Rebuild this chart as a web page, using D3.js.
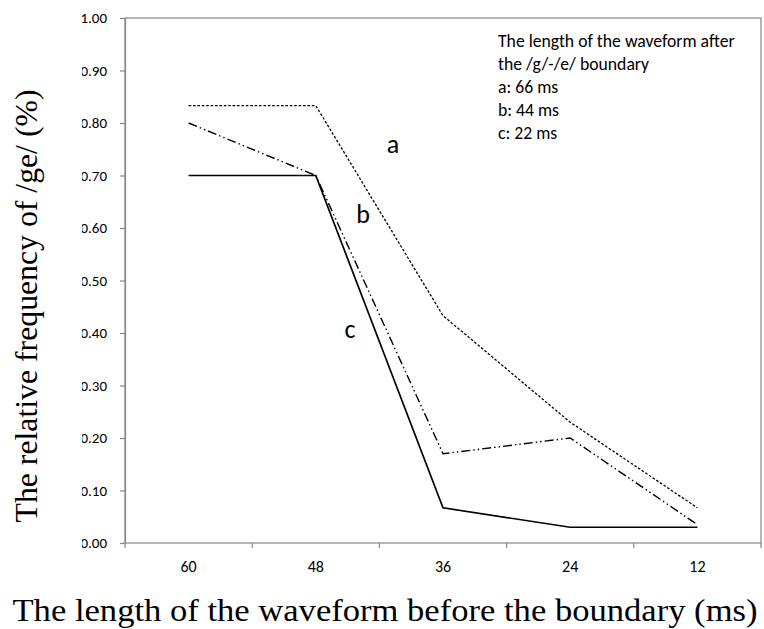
<!DOCTYPE html>
<html>
<head>
<meta charset="utf-8">
<script src="https://cdn.jsdelivr.net/npm/d3@7"></script>
<style>
  body { margin: 0; background: #fff; }
</style>
</head>
<body>
<div class="chart-div"></div>
<script>

var width = 764;
var height = 629;

// data
var categories = ["60", "48", "36", "24", "12"];
var series_a = [0.833, 0.833, 0.433, 0.23, 0.067];   // 66 ms
var series_b = [0.80, 0.70, 0.17, 0.20, 0.035];      // 44 ms
var series_c = [0.70, 0.70, 0.067, 0.03, 0.03];      // 22 ms
var yTicks = [0, 0.1, 0.2, 0.3, 0.4, 0.5, 0.6, 0.7, 0.8, 0.9, 1.0];
var legendLines = ["The length of the waveform after", "the /g/-/e/ boundary", "a: 66 ms", "b: 44 ms", "c: 22 ms"];

var svg = d3.select("div.chart-div")
    .append("svg")
    .attr("width", width)
    .attr("height", height)

var plotLeft = 125, plotRight = 761, plotTop = 18, plotBottom = 543;

var x = d3.scaleBand()
    .domain(categories)
    .range([plotLeft, plotRight])

var y = d3.scaleLinear()
    .domain([0, 1])
    .range([plotBottom, plotTop])

var axisColor = "#868686"
var tickFont = "Carlito, Calibri, 'Open Sans', sans-serif"

//----------------------------- frame

svg.append("rect")
    .attr("x", plotLeft)
    .attr("y", plotTop)
    .attr("width", plotRight - plotLeft)
    .attr("height", plotBottom - plotTop)
    .attr("fill", "none")
    .attr("stroke", axisColor)
    .attr("stroke-width", 1.2)

// y ticks + labels
var yAxis = svg.append("g")
    .attr("transform", "translate(" + plotLeft + ",0)")
    .call(d3.axisLeft(y).tickValues(yTicks).tickSize(5).tickSizeOuter(0).tickFormat(d3.format(".2f")))

yAxis.select(".domain").attr("stroke", axisColor).attr("stroke-width", 1.2)
yAxis.selectAll(".tick line").attr("stroke", axisColor).attr("stroke-width", 1.2)
yAxis.selectAll(".tick text")
    .attr("x", -18)
    .attr("font-family", tickFont)
    .attr("font-size", 15)
    .style("fill", "#000")

// x ticks at band edges
var edges = categories.map(function (d) { return x(d); }).concat([plotRight])

svg.append("g").selectAll("line")
    .data(edges)
    .enter()
    .append("line")
    .attr("x1", function (d) { return d; })
    .attr("x2", function (d) { return d; })
    .attr("y1", plotBottom)
    .attr("y2", plotBottom + 5)
    .attr("stroke", axisColor)
    .attr("stroke-width", 1.2)

svg.append("g").selectAll("text")
    .data(categories)
    .enter()
    .append("text")
    .attr("x", function (d) { return x(d) + x.bandwidth() / 2; })
    .attr("y", 572)
    .attr("text-anchor", "middle")
    .attr("font-family", tickFont)
    .attr("font-size", 16)
    .style("fill", "#000")
    .text(function (d) { return d; })

//----------------------------- lines

var line = d3.line()
    .x(function (d, i) { return x(categories[i]) + x.bandwidth() / 2; })
    .y(function (d) { return y(d); })

svg.append("path")
    .attr("d", line(series_a))
    .attr("fill", "none")
    .attr("stroke", "#000")
    .attr("stroke-width", 1.3)
    .style("stroke-dasharray", "2.6,1.8")

svg.append("path")
    .attr("d", line(series_b))
    .attr("fill", "none")
    .attr("stroke", "#000")
    .attr("stroke-width", 1.4)
    .style("stroke-dasharray", "9,3,1.5,3,1.5,3")

svg.append("path")
    .attr("d", line(series_c))
    .attr("fill", "none")
    .attr("stroke", "#000")
    .attr("stroke-width", 1.7)

// series labels
var labelFont = "Carlito, Calibri, 'Open Sans', sans-serif"
var seriesLabels = [["a", 393, 153], ["b", 363, 223], ["c", 350, 338]]

svg.append("g").selectAll("text")
    .data(seriesLabels)
    .enter()
    .append("text")
    .attr("x", function (d) { return d[1]; })
    .attr("y", function (d) { return d[2]; })
    .attr("text-anchor", "middle")
    .attr("font-family", labelFont)
    .attr("font-size", 26)
    .style("fill", "#000")
    .text(function (d) { return d[0]; })

// legend text
svg.append("g").selectAll("text")
    .data(legendLines)
    .enter()
    .append("text")
    .attr("x", 498)
    .attr("y", function (d, i) { return 47 + i * 23; })
    .attr("font-family", labelFont)
    .attr("font-size", 17.7)
    .style("fill", "#000")
    .text(function (d) { return d; })

//----------------------------- axis titles

// the title image hides the leading zeros of the tick labels
svg.append("rect")
    .attr("x", 0)
    .attr("y", 52)
    .attr("width", 82)
    .attr("height", 500)
    .attr("fill", "#fff")

svg.append("text")
    .attr("transform", "translate(37,306) rotate(-90)")
    .attr("text-anchor", "middle")
    .attr("font-family", "'Liberation Serif', 'Times New Roman', serif")
    .attr("font-size", 32)
    .attr("textLength", 433)
    .attr("lengthAdjust", "spacingAndGlyphs")
    .style("fill", "#000")
    .text("The relative frequency of /ge/ (%)")

svg.append("text")
    .attr("x", 385)
    .attr("y", 621)
    .attr("text-anchor", "middle")
    .attr("font-family", "'Liberation Serif', 'Times New Roman', serif")
    .attr("font-size", 31)
    .attr("textLength", 745)
    .attr("lengthAdjust", "spacingAndGlyphs")
    .style("fill", "#000")
    .text("The length of the waveform before the boundary (ms)")

</script>
</body>
</html>
